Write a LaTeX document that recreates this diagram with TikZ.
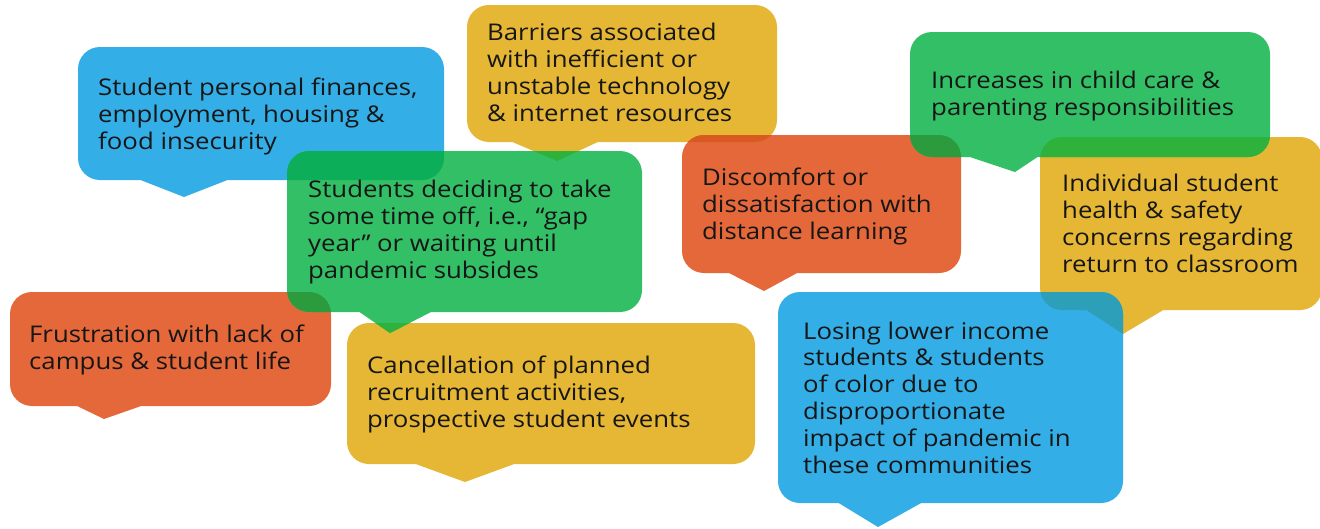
\documentclass[tikz,border=0pt]{standalone}
\usepackage{fontspec}
\setmainfont[FakeStretch=1.12]{Open Sans}
\definecolor{cblue}{HTML}{33AEE6}
\definecolor{cyellow}{HTML}{E5B734}
\definecolor{cgreen}{HTML}{33BF66}
\definecolor{corange}{HTML}{E46839}
\definecolor{ogb}{HTML}{0CAE5A}
\definecolor{ogo}{HTML}{2C9B3E}
\definecolor{ogy}{HTML}{2EB23C}
\definecolor{ooy}{HTML}{D95A20}
\definecolor{oby}{HTML}{2E9FB8}
\definecolor{ctext}{HTML}{161616}
\tikzset{
  txt/.style={anchor=base west, inner sep=0pt, align=left, text=ctext,
    font=\fontsize{23}{26.8}\selectfont},
}
% bubble outlines: rounded box + tail
\def\pA{[rounded corners=22pt] (78,47) rectangle (444,180) [sharp corners] (138,179) -- (184,197) -- (230,179) -- cycle}
\def\pB{[rounded corners=22pt] (467,5) rectangle (777,142) [sharp corners] (510,141) -- (557,161) -- (600,141) -- cycle}
\def\pC{[rounded corners=22pt] (910,32) rectangle (1270,157) [sharp corners] (967,156) -- (1015,172) -- (1039,156) -- cycle}
\def\pD{[rounded corners=22pt] (682,135) rectangle (961,273) [sharp corners] (727,272) -- (764,291) -- (799,272) -- cycle}
\def\pE{[rounded corners=22pt] (1040,137) rectangle (1322,310) [sharp corners] (1085,309) -- (1123,334) -- (1165,309) -- cycle}
\def\pF{[rounded corners=22pt] (287,151) rectangle (642,312) [sharp corners] (358,311) -- (390,333) -- (433,311) -- cycle}
\def\pG{[rounded corners=22pt] (10,292) rectangle (331,406) [sharp corners] (75,405) -- (104,419) -- (144,405) -- cycle}
\def\pH{[rounded corners=22pt] (347,323) rectangle (755,464) [sharp corners] (413,463) -- (465,482) -- (517,463) -- cycle}
\def\pI{[rounded corners=22pt] (778,292) rectangle (1123,503) [sharp corners] (837,502) -- (878,527) -- (923,502) -- cycle}
\begin{document}
\begin{tikzpicture}[x=1pt,y=-1pt]
\useasboundingbox (0,0) rectangle (1320,528);
\fill[white] (0,0) rectangle (1320,528);
% bubbles, back to front
\fill[cblue] \pA;
\fill[cyellow] \pB;
\fill[corange] \pG;
\fill[cyellow] \pH;
\fill[corange] \pD;
\fill[cyellow] \pE;
\fill[cgreen] \pF;
\fill[cgreen] \pC;
\fill[cblue] \pI;
% overlaps
\begin{scope}\clip \pA; \fill[ogb] \pF;\end{scope}
\begin{scope}\clip \pB; \fill[ogy] \pF;\end{scope}
\begin{scope}\clip \pG; \fill[ogo] \pF;\end{scope}
\begin{scope}\clip \pH; \fill[ogy] \pF;\end{scope}
\begin{scope}\clip \pB; \fill[ooy] \pD;\end{scope}
\begin{scope}\clip \pD; \fill[ogo] \pC;\end{scope}
\begin{scope}\clip \pE; \fill[ogy] \pC;\end{scope}
\begin{scope}\clip \pE; \fill[oby] \pI;\end{scope}
% texts (anchored at the baseline of the last line)
\node[txt] (tA) at (98,149) {Student personal finances,\\employment, housing \&\\food insecurity};
\node[txt] (tB) at (487,121) {Barriers associated\\with inefficient or\\unstable technology\\\& internet resources};
\node[txt] (tC) at (931,115) {Increases in child care \&\\parenting responsibilities};
\node[txt] (tD) at (702,239) {Discomfort or\\dissatisfaction with\\distance learning};
\node[txt] (tE) at (1062,272) {Individual student\\health \& safety\\concerns regarding\\return to classroom};
\node[txt] (tF) at (308,278) {Students deciding to take\\some time off, i.e., “gap\\year” or waiting until\\pandemic subsides};
\node[txt] (tG) at (29,369) {Frustration with lack of\\campus \& student life};
\node[txt] (tH) at (367,427) {Cancellation of planned\\recruitment activities,\\prospective student events};
\node[txt] (tI) at (803,473) {Losing lower income\\students \& students\\of color due to\\disproportionate\\impact of pandemic in\\these communities};
\end{tikzpicture}
\end{document}
